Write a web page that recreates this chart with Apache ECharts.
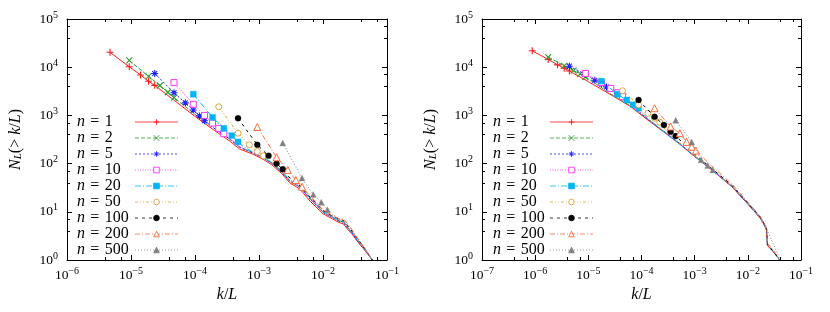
<!DOCTYPE html>
<html><head><meta charset="utf-8">
<script src="https://cdn.jsdelivr.net/npm/echarts@6/dist/echarts.min.js"></script>
<style>html,body{margin:0;padding:0;background:#fff}#c{width:830px;height:312px}</style>
</head><body><div id="c"></div>
<script>
// ---------- DATA ----------
const seriesNames = ['n = 1','n = 2','n = 5','n = 10','n = 20','n = 50','n = 100','n = 200','n = 500'];
const xTicksLeft = [1e-6,1e-5,1e-4,1e-3,1e-2,1e-1];
const xTicksRight = [1e-7,1e-6,1e-5,1e-4,1e-3,1e-2,1e-1];
const yTicks = [1,10,100,1000,10000,100000];

// left panel: [k/L, N_L(>k/L)]
const left_n1 = [[4.7e-6,20400],[9.4e-6,10200],[1.41e-5,6900],[1.88e-5,5100],[2.35e-5,4200],[1e-4,955],[2.0e-4,490],[3.55e-4,288],[5.0e-4,200],[7.94e-4,158],[1.12e-3,126],[1.58e-3,95],[2.24e-3,63],[3.02e-3,40],[4.37e-3,29.5],[6.31e-3,16.6],[1.0e-2,9.1],[1.41e-2,7.1],[1.78e-2,6.0],[2.09e-2,5.6],[2.40e-2,4.4],[2.82e-2,3.5],[3.39e-2,2.5],[4.47e-2,1.6],[5.89e-2,1]];
const left_n2 = [[9.4e-6,13800],[1.88e-5,6460],[2.82e-5,4170],[3.76e-5,3020],[4.7e-5,2340],[1e-4,1050],[2.0e-4,537],[3.55e-4,316],[5.0e-4,219],[7.94e-4,170],[1.12e-3,135],[1.58e-3,102],[2.24e-3,67.6],[3.02e-3,42.7],[4.37e-3,32.4],[6.31e-3,18.2],[1.0e-2,9.8],[1.41e-2,7.6],[1.78e-2,6.3],[2.09e-2,6.2],[2.40e-2,4.8],[2.82e-2,3.7],[3.39e-2,2.7],[4.47e-2,1.7],[5.89e-2,1]];
const left_n5 = [[2.35e-5,7410],[4.7e-5,2950],[7.05e-5,1820],[9.4e-5,1290],[1.175e-4,977],[1.41e-4,776],[2.0e-4,537],[3.55e-4,316],[5.0e-4,219],[7.94e-4,166],[1.12e-3,135],[1.58e-3,102],[2.24e-3,67.6],[3.02e-3,43.7],[4.37e-3,31.6],[6.31e-3,18.6],[1.0e-2,9.8],[1.41e-2,7.6],[1.78e-2,6.6],[2.09e-2,6.0],[2.40e-2,4.7],[2.82e-2,3.7],[3.39e-2,2.6],[4.47e-2,1.66],[5.89e-2,1]];
const left_n10 = [[4.7e-5,4790],[9.4e-5,1700],[1.41e-4,1000],[1.88e-4,692],[2.35e-4,537],[2.82e-4,417],[3.55e-4,324],[5.0e-4,224],[7.94e-4,170],[1.12e-3,135],[1.58e-3,105],[2.24e-3,69],[3.02e-3,44.7],[4.37e-3,33.1],[6.31e-3,19.1],[1.0e-2,10],[1.41e-2,7.9],[1.78e-2,6.8],[2.09e-2,6.3],[2.40e-2,5.0],[2.82e-2,3.8],[3.39e-2,2.75],[4.47e-2,1.7],[5.89e-2,1]];
const left_n20 = [[9.4e-5,2750],[1.88e-4,912],[2.82e-4,537],[3.76e-4,380],[4.7e-4,282],[5.64e-4,229],[7.94e-4,174],[1.12e-3,138],[1.58e-3,105],[2.24e-3,70.8],[3.02e-3,45.7],[4.37e-3,33.1],[6.31e-3,19.1],[1.0e-2,10],[1.41e-2,7.8],[1.78e-2,6.6],[2.09e-2,6.3],[2.40e-2,4.9],[2.82e-2,3.8],[3.39e-2,2.7],[4.47e-2,1.66],[5.89e-2,1]];
const left_n50 = [[2.35e-4,1510],[4.7e-4,427],[7.05e-4,245],[9.4e-4,178],[1.175e-3,145],[1.41e-3,120],[2.24e-3,72.4],[3.02e-3,46.8],[4.37e-3,33.9],[6.31e-3,20],[1.0e-2,10.5],[1.41e-2,8.1],[1.78e-2,6.9],[2.09e-2,6.6],[2.40e-2,5.2],[2.82e-2,4.0],[3.39e-2,2.8],[4.47e-2,1.74],[5.89e-2,1]];
const left_n100 = [[4.7e-4,871],[9.4e-4,245],[1.41e-3,145],[1.88e-3,100],[2.35e-3,76],[2.82e-3,55],[4.37e-3,34.7],[6.31e-3,20],[1.0e-2,10.7],[1.41e-2,8.1],[1.78e-2,7.1],[2.09e-2,6.6],[2.40e-2,5.2],[2.82e-2,4.0],[3.39e-2,2.9],[4.47e-2,1.74],[5.89e-2,1]];
const left_n200 = [[9.4e-4,575],[1.88e-3,135],[2.82e-3,74],[3.76e-3,45.7],[4.7e-3,33.1],[5.64e-3,25.1],[1.0e-2,11],[1.41e-2,8.3],[1.78e-2,7.2],[2.09e-2,7.1],[2.40e-2,5.75],[2.82e-2,4.3],[3.39e-2,2.95],[4.47e-2,1.78],[5.89e-2,1]];
const left_n500 = [[2.35e-3,269],[4.7e-3,50],[7.05e-3,22.9],[9.4e-3,15.8],[1.175e-2,11],[1.41e-2,8.7],[1.645e-2,7.6],[1.88e-2,6.9],[2.35e-2,5.6],[2.82e-2,4.2],[3.29e-2,3.0],[3.76e-2,2.4],[4.7e-2,1.6],[5.64e-2,1.1],[6.0e-2,1]];

// right panel: [k/L, N_L(>k/L)]
const right_n1 = [[8.8e-7,21900],[1.76e-6,14500],[2.64e-6,11200],[3.52e-6,9550],[4.4e-6,8320],[1e-5,5010],[3.16e-5,2400],[6.31e-5,1510],[1.26e-4,832],[2.82e-4,427],[5.01e-4,263],[8.91e-4,155],[2.09e-3,74],[5.01e-3,33.1],[8.91e-3,16.6],[1.35e-2,10],[1.70e-2,7.4],[2.0e-2,5.5],[2.24e-2,4.2],[2.34e-2,2.0],[3.02e-2,1.48],[3.98e-2,1]];
const right_n2 = [[1.76e-6,16200],[3.52e-6,10700],[5.28e-6,8510],[7.04e-6,7240],[8.8e-6,6310],[3.16e-5,2450],[6.31e-5,1550],[1.26e-4,851],[2.82e-4,437],[5.01e-4,269],[8.91e-4,158],[2.09e-3,76],[5.01e-3,34],[8.91e-3,17],[1.35e-2,10.2],[1.70e-2,7.6],[2.0e-2,5.7],[2.24e-2,4.4],[2.34e-2,2.1],[3.02e-2,1.5],[3.98e-2,1]];
const right_n5 = [[4.4e-6,10500],[8.8e-6,7080],[1.32e-5,5370],[1.76e-5,4470],[2.2e-5,3890],[3.16e-5,2880],[6.31e-5,1660],[1.26e-4,871],[2.82e-4,437],[5.01e-4,269],[8.91e-4,158],[2.09e-3,75],[5.01e-3,33.5],[8.91e-3,16.8],[1.35e-2,10.1],[1.70e-2,7.5],[2.0e-2,5.6],[2.24e-2,4.3],[2.34e-2,2.0],[3.02e-2,1.5],[3.98e-2,1]];
const right_n10 = [[8.8e-6,7410],[1.76e-5,4790],[2.64e-5,3630],[3.52e-5,2950],[4.4e-5,2450],[6.31e-5,1660],[1.26e-4,871],[2.82e-4,437],[5.01e-4,269],[8.91e-4,158],[2.09e-3,75],[5.01e-3,34],[8.91e-3,17],[1.35e-2,10.2],[1.70e-2,7.6],[2.0e-2,5.7],[2.24e-2,4.3],[2.34e-2,2.05],[3.02e-2,1.5],[3.98e-2,1]];
const right_n20 = [[1.76e-5,5130],[3.52e-5,2750],[5.28e-5,2090],[7.04e-5,1660],[8.8e-5,1410],[1.26e-4,891],[2.82e-4,437],[5.01e-4,269],[8.91e-4,158],[2.09e-3,76],[5.01e-3,34],[8.91e-3,17],[1.35e-2,10.2],[1.70e-2,7.6],[2.0e-2,5.6],[2.24e-2,4.3],[2.34e-2,2.0],[3.02e-2,1.5],[3.98e-2,1]];
const right_n50 = [[4.4e-5,3240],[8.8e-5,1660],[1.32e-4,1100],[1.76e-4,871],[2.2e-4,724],[2.82e-4,501],[5.01e-4,282],[8.91e-4,162],[2.09e-3,77.6],[5.01e-3,34.7],[8.91e-3,17.4],[1.35e-2,10.5],[1.70e-2,7.8],[2.0e-2,5.8],[2.24e-2,4.5],[2.34e-2,2.1],[3.02e-2,1.55],[3.98e-2,1]];
const right_n100 = [[8.8e-5,2090],[1.76e-4,933],[2.64e-4,631],[3.52e-4,457],[4.4e-4,372],[5.28e-4,309],[8.91e-4,174],[2.09e-3,79.4],[5.01e-3,35.5],[8.91e-3,17.4],[1.35e-2,10.5],[1.70e-2,7.8],[2.0e-2,5.8],[2.24e-2,4.4],[2.34e-2,2.1],[3.02e-2,1.5],[3.98e-2,1]];
const right_n200 = [[1.76e-4,1410],[3.52e-4,589],[5.28e-4,427],[7.04e-4,282],[8.8e-4,224],[1.056e-3,186],[1.232e-3,158],[2.09e-3,89],[5.01e-3,38],[8.91e-3,18.2],[1.35e-2,11],[1.70e-2,8.1],[2.0e-2,6.0],[2.24e-2,4.6],[2.34e-2,2.2],[3.02e-2,1.6],[3.98e-2,1]];
const right_n500 = [[4.4e-4,794],[8.8e-4,282],[1.32e-3,120],[1.76e-3,91],[2.2e-3,74],[2.64e-3,61.7],[3.52e-3,45.7],[4.4e-3,38],[5.28e-3,31.6],[7.04e-3,24],[8.8e-3,18.2],[1.056e-2,14.5],[1.32e-2,11],[1.76e-2,7.6],[2.2e-2,4.8],[2.79e-2,2.6],[3.55e-2,1.41],[4.07e-2,1]];

const leftData = [left_n1,left_n2,left_n5,left_n10,left_n20,left_n50,left_n100,left_n200,left_n500];
const rightData = [right_n1,right_n2,right_n5,right_n10,right_n20,right_n50,right_n100,right_n200,right_n500];

// ---------- STYLE ----------
const PLUS = 'path://M0,5L10,5M5,0L5,10';
const CROSS = 'path://M0,0L10,10M0,10L10,0';
const STAR = 'path://M0,5L10,5M5,0L5,10M1.5,1.5L8.5,8.5M1.5,8.5L8.5,1.5';
const STY = [
  {c:'#ff1a1a', sym:PLUS, size:7, open:false, path:true, dash:'solid', marks:5},
  {c:'#2e9a2e', sym:CROSS, size:6, open:false, path:true, dash:[4,2], marks:5},
  {c:'#2020ff', sym:STAR, size:7, open:false, path:true, dash:[2,2], marks:5, leftMarks:6},
  {c:'#ff30ff', sym:'rect', size:6, open:true, dash:[1,1.5], marks:5, leftMarks:6},
  {c:'#00b4f5', sym:'rect', size:6, open:false, dash:[6,2,1,2], marks:5},
  {c:'#dca53c', sym:'circle', size:6, open:true, dash:[3,2,1,2,1,2], marks:5},
  {c:'#000000', sym:'circle', size:6, open:false, dash:[3,4], marks:5},
  {c:'#ff6a3c', sym:'triangle', size:7, open:true, dash:[5,2,1,2], marks:5, rightMarks:6},
  {c:'#808080', sym:'triangle', size:6, open:false, dash:[1,2], marks:5}
];
const FONT = 'Liberation Serif';

function mkSeries(dataArr, side) {
  return dataArr.map((arr, i) => {
    const s = STY[i];
    let m = s.marks;
    if (side === 0 && s.leftMarks) m = s.leftMarks;
    if (side === 1 && s.rightMarks) m = s.rightMarks;
    return {
      type:'line', name: seriesNames[i], xAxisIndex: side, yAxisIndex: side,
      symbol: s.sym, symbolSize: s.size, showSymbol:true, showAllSymbol:true,
      data: arr.map((p, j) => j < m ? {value:p} : {value:p, symbol:'none'}),
      lineStyle: {color: s.c, width: 1, type: s.dash},
      itemStyle: s.open ? {color:'#fff', borderColor:s.c, borderWidth:1}
                        : (s.path ? {color:s.c, borderColor:s.c, borderWidth:1.1}
                                  : {color:s.c, borderColor:s.c, borderWidth:0.3}),
      emphasis: {disabled:true},
      z: 2 + i
    };
  });
}

const supFmt = v => { const e = Math.round(Math.log10(v)); return '{b|10}{s|' + (e < 0 ? '\u2212' + (-e) : e) + '}'; };
const labelRich = {
  b: {fontFamily:FONT, fontSize:13.5, color:'#000'},
  s: {fontFamily:FONT, fontSize:10, color:'#000', padding:[0,0,8,0]}
};

function logAxis(kind, grid, pos, min, max, split, showLabels) {
  return {
    type:'log', logBase:10, gridIndex:grid, position:pos, min:min, max:max, splitNumber:split,
    axisLine:{show:true, onZero:false, lineStyle:{color:'#000', width:1}},
    axisTick:{show:true, inside:true, length:5, lineStyle:{color:'#000', width:1}},
    minorTick:{show:true, splitNumber:3, length:3, lineStyle:{color:'#000', width:1}},
    splitLine:{show:false}, minorSplitLine:{show:false},
    axisLabel:{show:showLabels, formatter:supFmt, rich:labelRich, margin: kind==='x' ? 6 : 9},
    silent:true
  };
}

const xName = {
  name:'{i|k}{r|/}{i|L}', nameLocation:'middle', nameGap:27,
  nameTextStyle:{rich:{i:{fontFamily:FONT, fontStyle:'italic', fontSize:16, color:'#000'}, r:{fontFamily:FONT, fontSize:16, color:'#000'}}}
};
const yName = {
  name:'{i|N}{sub|L}{r|(> }{i|k}{r|/}{i|L}{r|)}', nameLocation:'middle', nameGap:43, nameRotate:90,
  nameTextStyle:{rich:{
    i:{fontFamily:FONT, fontStyle:'italic', fontSize:16, color:'#000'},
    sub:{fontFamily:FONT, fontStyle:'italic', fontSize:11, color:'#000', padding:[6,0,0,0]},
    r:{fontFamily:FONT, fontSize:16, color:'#000'}}}
};

const xAxes = [
  Object.assign(logAxis('x',0,'bottom',1e-6,1e-1,5,true), xName),
  Object.assign(logAxis('x',1,'bottom',1e-7,1e-1,6,true), xName),
  logAxis('x',0,'top',1e-6,1e-1,5,false),
  logAxis('x',1,'top',1e-7,1e-1,6,false)
];
const yAxes = [
  Object.assign(logAxis('y',0,'left',1,1e5,5,true), yName),
  Object.assign(logAxis('y',1,'left',1,1e5,5,true), yName),
  logAxis('y',0,'right',1,1e5,5,false),
  logAxis('y',1,'right',1,1e5,5,false)
];

function mkLegend(left, textW) {
  return {
    orient:'vertical', left:left, top:114, padding:0, itemGap:0,
    itemWidth:43, itemHeight:7, align:'right', selectedMode:false,
    data: seriesNames,
    lineStyle:{width:0.8},
    itemStyle:{borderWidth:0.9},
    formatter: name => '{i|n}{a|\u2004=\u2004' + name.split('= ')[1] + '}',
    textStyle:{fontFamily:FONT, fontSize:16, color:'#000', width:textW, lineHeight:15.7,
      rich:{i:{fontFamily:FONT, fontStyle:'italic', fontSize:16, align:'left', lineHeight:15.7},
            a:{fontFamily:FONT, fontSize:16, align:'left', lineHeight:15.7}}}
  };
}

const chart = echarts.init(document.getElementById('c'), null, {renderer:'canvas'});
chart.setOption({
  animation:false,
  backgroundColor:'#fff',
  grid:[
    {left:67, top:19, width:320, height:241},
    {left:482, top:19, width:319, height:241}
  ],
  xAxis: xAxes,
  yAxis: yAxes,
  legend:[mkLegend(77,53), mkLegend(493,52)],
  series: mkSeries(leftData,0).concat(mkSeries(rightData,1))
});
</script>
</body></html>
